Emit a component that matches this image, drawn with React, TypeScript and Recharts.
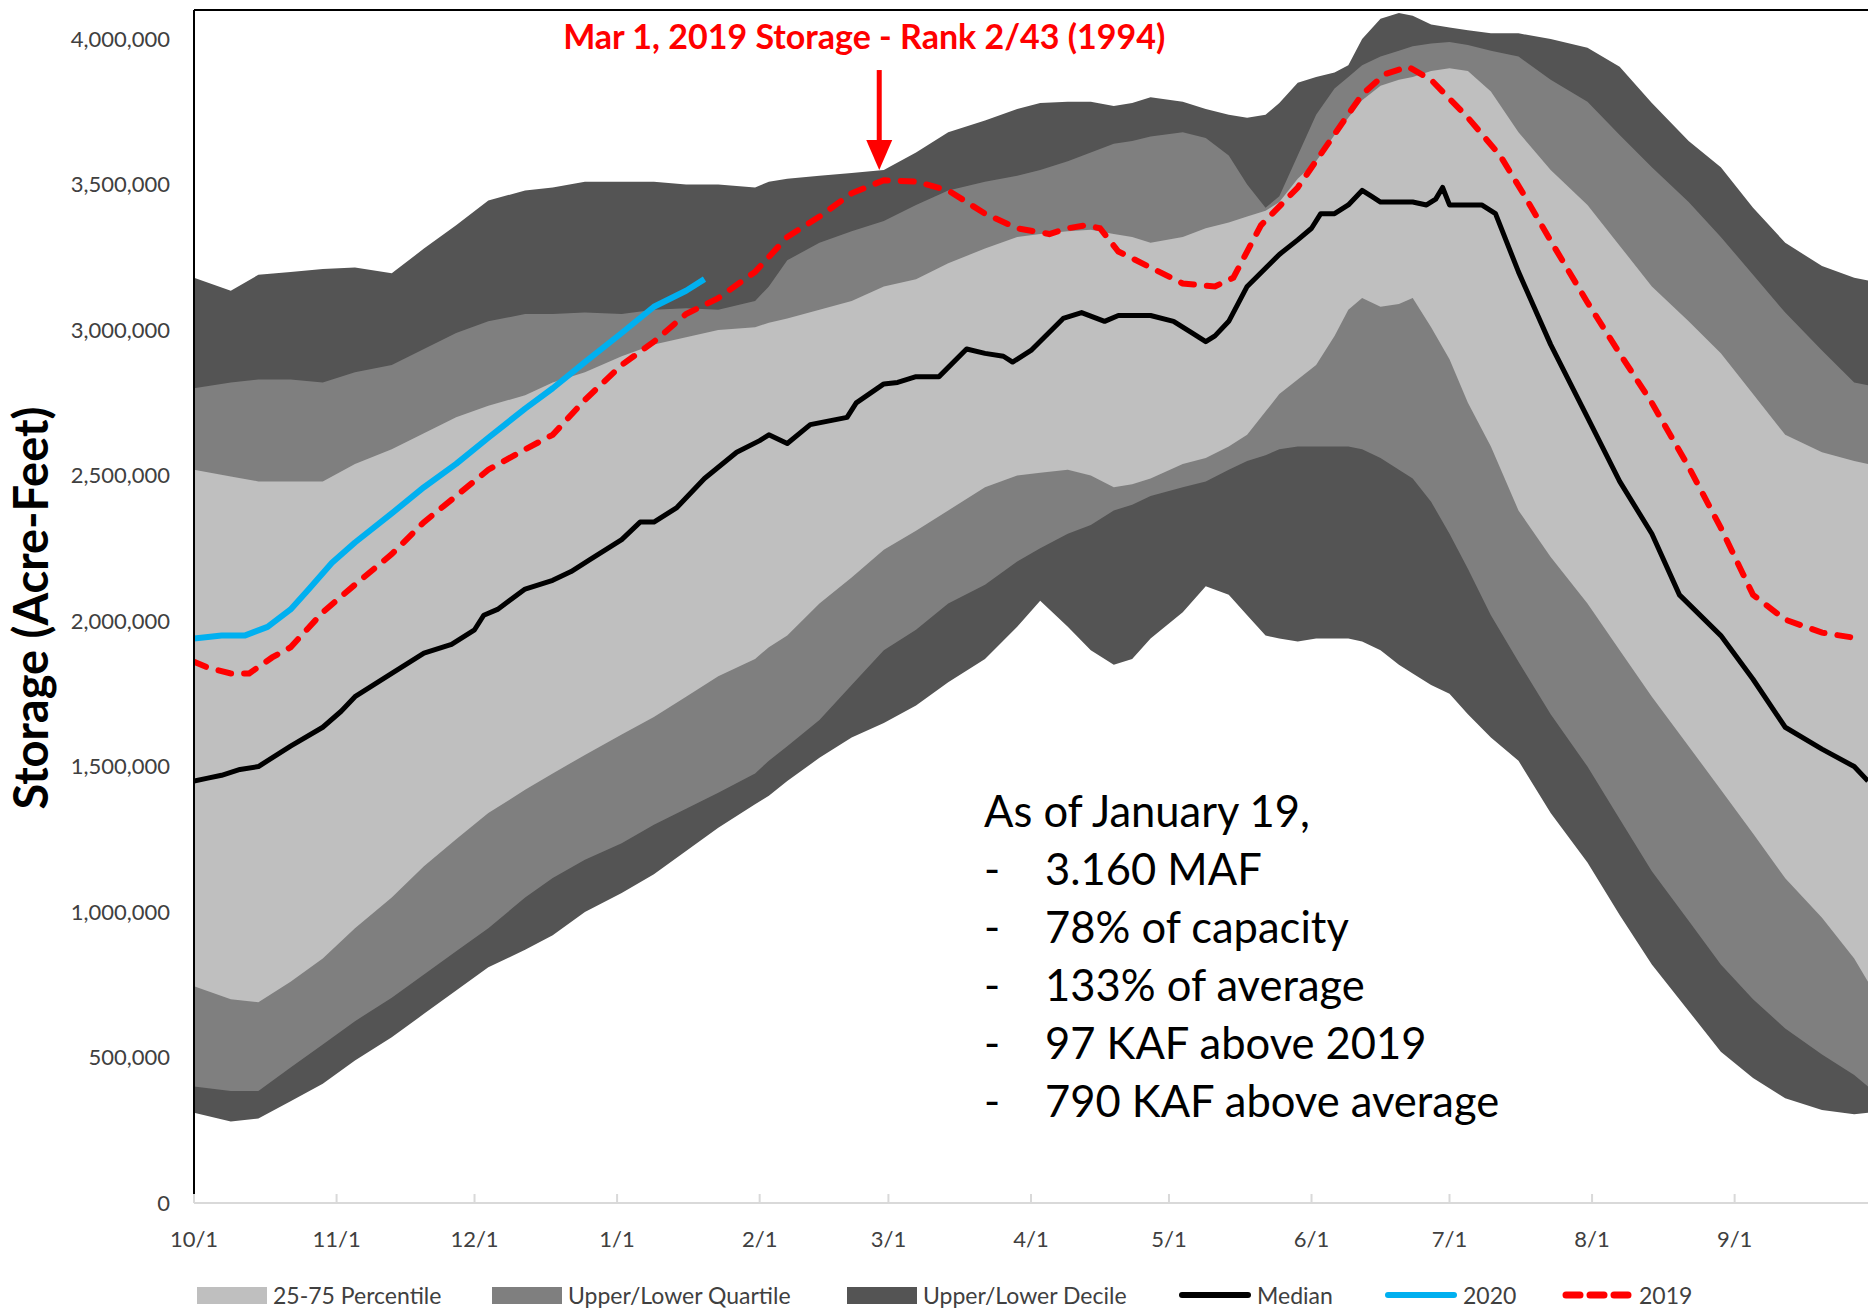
import React from 'react';
import { ComposedChart, Area, Line, XAxis, YAxis, ReferenceLine, ReferenceDot } from 'recharts';

// ---- Data (storage in thousand acre-feet, day = days since Oct 1) ----
const BAND_DAYS = [0, 8, 14, 21, 28, 35, 43, 50, 57, 64, 72, 78, 85, 93, 100, 107, 114, 122, 125, 129, 136, 143, 150, 157, 164, 172, 179, 184, 190, 195, 200, 204, 208, 215, 220, 225, 229, 233, 236, 240, 244, 248, 251, 254, 258, 262, 265, 269, 273, 277, 282, 288, 295, 303, 310, 317, 325, 332, 339, 346, 354, 361, 364];
const DECILE_LOW = [310, 280, 290, 350, 410, 490, 570, 650, 730, 810, 870, 920, 1000, 1065, 1130, 1210, 1290, 1370, 1400, 1450, 1530, 1600, 1650, 1710, 1790, 1870, 1980, 2070, 1980, 1900, 1850, 1870, 1940, 2030, 2120, 2090, 2020, 1950, 1940, 1930, 1940, 1940, 1940, 1930, 1900, 1850, 1820, 1780, 1750, 1680, 1600, 1520, 1340, 1170, 990, 820, 660, 520, 430, 360, 320, 305, 310];
const DECILE_HIGH = [3180, 3135, 3190, 3200, 3210, 3215, 3195, 3280, 3360, 3445, 3480, 3490, 3510, 3510, 3510, 3500, 3500, 3490, 3510, 3520, 3530, 3540, 3550, 3610, 3680, 3720, 3760, 3780, 3785, 3785, 3770, 3780, 3800, 3785, 3760, 3740, 3730, 3740, 3780, 3850, 3870, 3885, 3910, 4000, 4070, 4090, 4080, 4050, 4040, 4030, 4020, 4020, 4000, 3970, 3905, 3780, 3650, 3560, 3420, 3300, 3220, 3180, 3170];
const QUART_LOW = [400, 385, 385, 466, 545, 625, 705, 785, 865, 944, 1050, 1117, 1180, 1236, 1300, 1355, 1410, 1476, 1520, 1570, 1660, 1780, 1900, 1970, 2060, 2125, 2205, 2250, 2300, 2330, 2380, 2400, 2430, 2460, 2480, 2520, 2550, 2570, 2590, 2600, 2600, 2600, 2600, 2590, 2560, 2520, 2490, 2410, 2300, 2180, 2020, 1860, 1680, 1500, 1320, 1140, 970, 820, 700, 600, 510, 440, 400];
const QUART_HIGH = [2800, 2820, 2830, 2830, 2820, 2855, 2880, 2935, 2990, 3030, 3055, 3055, 3060, 3055, 3070, 3075, 3070, 3100, 3150, 3240, 3300, 3340, 3375, 3430, 3480, 3510, 3530, 3550, 3580, 3610, 3640, 3650, 3665, 3680, 3660, 3600, 3500, 3420, 3460, 3600, 3740, 3830, 3870, 3910, 3940, 3960, 3975, 3985, 3990, 3980, 3960, 3940, 3860, 3785, 3670, 3560, 3440, 3320, 3190, 3060, 2930, 2820, 2810];
const IQR_LOW = [745, 700, 690, 760, 840, 944, 1050, 1157, 1250, 1340, 1420, 1476, 1540, 1610, 1670, 1740, 1810, 1870, 1910, 1950, 2060, 2150, 2245, 2310, 2380, 2460, 2500, 2510, 2520, 2500, 2460, 2470, 2490, 2540, 2560, 2600, 2640, 2720, 2780, 2830, 2880, 2980, 3070, 3110, 3080, 3090, 3110, 3010, 2900, 2750, 2600, 2380, 2220, 2060, 1900, 1740, 1570, 1420, 1270, 1116, 980, 840, 760];
const IQR_HIGH = [2520, 2497, 2480, 2480, 2480, 2540, 2590, 2645, 2700, 2740, 2776, 2820, 2855, 2910, 2950, 2975, 3000, 3010, 3025, 3040, 3070, 3100, 3150, 3175, 3230, 3280, 3320, 3330, 3340, 3345, 3330, 3320, 3300, 3320, 3350, 3370, 3390, 3410, 3440, 3520, 3580, 3670, 3730, 3790, 3840, 3860, 3870, 3890, 3900, 3890, 3820, 3680, 3550, 3430, 3290, 3150, 3030, 2920, 2780, 2640, 2580, 2550, 2540];

const MEDIAN_DAYS = [0, 3, 6, 10, 14, 21, 28, 32, 35, 43, 50, 56, 61, 63, 66, 72, 78, 82, 86, 93, 97, 100, 105, 111, 118, 123, 125, 129, 134, 142, 144, 150, 153, 157, 162, 168, 172, 176, 178, 182, 189, 193, 198, 201, 208, 213, 217, 220, 222, 225, 229, 236, 240, 243, 245, 248, 251, 254, 256, 258, 262, 265, 268, 270, 271.5, 273, 280, 283, 288, 295, 303, 310, 317, 323, 332, 339, 346, 354, 361, 364];
const MEDIAN_VALUES = [1450, 1460, 1470, 1490, 1500, 1570, 1635, 1690, 1740, 1820, 1890, 1920, 1970, 2020, 2040, 2110, 2140, 2170, 2210, 2280, 2340, 2340, 2390, 2490, 2580, 2620, 2640, 2610, 2675, 2700, 2750, 2815, 2820, 2840, 2840, 2935, 2920, 2910, 2890, 2930, 3040, 3060, 3030, 3050, 3050, 3030, 2990, 2960, 2980, 3030, 3150, 3260, 3310, 3350, 3400, 3400, 3430, 3480, 3460, 3440, 3440, 3440, 3430, 3450, 3490, 3430, 3430, 3400, 3200, 2950, 2700, 2480, 2300, 2090, 1950, 1800, 1635, 1560, 1500, 1450];

const Y2019_DAYS = [0, 3, 8, 12, 17, 21, 28, 35, 43, 50, 57, 64, 72, 78, 85, 93, 100, 107, 114, 122, 129, 136, 143, 150, 157, 164, 172, 179, 186, 190, 194, 197, 201, 208, 215, 222, 226, 232, 240, 247, 254, 259, 264, 269, 277, 284, 289, 296, 303, 310, 317, 325, 332, 339, 346, 354, 362];
const Y2019_VALUES = [1860, 1840, 1820, 1820, 1875, 1910, 2030, 2125, 2230, 2340, 2430, 2520, 2590, 2640, 2760, 2880, 2960, 3055, 3110, 3200, 3320, 3390, 3470, 3515, 3510, 3480, 3400, 3350, 3330, 3350, 3360, 3350, 3270, 3215, 3160, 3150, 3180, 3360, 3490, 3650, 3810, 3880, 3905, 3860, 3730, 3600, 3470, 3280, 3095, 2920, 2750, 2530, 2320, 2090, 2005, 1960, 1940];

const Y2020_DAYS = [0, 6, 11, 16, 21, 25, 30, 35, 43, 50, 57, 64, 72, 78, 85, 93, 100, 107, 111];
const Y2020_VALUES = [1940, 1950, 1950, 1980, 2040, 2110, 2200, 2270, 2370, 2460, 2540, 2630, 2730, 2800, 2890, 2990, 3080, 3135, 3175];

const MONTH_TICKS = [0, 31, 61, 92, 123, 151, 182, 212, 243, 273, 304, 335];
const MONTH_LABELS = ['10/1', '11/1', '12/1', '1/1', '2/1', '3/1', '4/1', '5/1', '6/1', '7/1', '8/1', '9/1'];
const Y_TICKS = [0, 500000, 1000000, 1500000, 2000000, 2500000, 3000000, 3500000, 4000000];
const Y_MAX = 4100000;

const ANNOTATION_TEXT = 'Mar 1, 2019 Storage - Rank 2/43 (1994)';
const ARROW_DAY = 149;
const ARROW_TIP = 3550000;

const INFO_TITLE = 'As of January 19,';
const INFO_ITEMS = ['3.160 MAF', '78% of capacity', '133% of average', '97 KAF above 2019', '790 KAF above average'];

const LEGEND_ITEMS = [
  { label: '25-75 Percentile', kind: 'box', color: '#BFBFBF' },
  { label: 'Upper/Lower Quartile', kind: 'box', color: '#7F7F7F' },
  { label: 'Upper/Lower Decile', kind: 'box', color: '#545454' },
  { label: 'Median', kind: 'line', color: '#000000' },
  { label: '2020', kind: 'line', color: '#00B0F0' },
  { label: '2019', kind: 'dash', color: '#FF0000' },
];

// ---- Built tables ----
const K = 1000;
const bandData = BAND_DAYS.map((d, i) => ({
  day: d,
  decile: [DECILE_LOW[i] * K, DECILE_HIGH[i] * K],
  quartile: [QUART_LOW[i] * K, QUART_HIGH[i] * K],
  iqr: [IQR_LOW[i] * K, IQR_HIGH[i] * K],
}));
const medianData = MEDIAN_DAYS.map((d, i) => ({ day: d, v: MEDIAN_VALUES[i] * K }));
const data2019 = Y2019_DAYS.map((d, i) => ({ day: d, v: Y2019_VALUES[i] * K }));
const data2020 = Y2020_DAYS.map((d, i) => ({ day: d, v: Y2020_VALUES[i] * K }));

const FONT = 'Lato, "Open Sans", sans-serif';

const XTick = (props: any) => {
  const { x, y, payload } = props;
  const idx = MONTH_TICKS.indexOf(payload.value);
  return (
    <g>
      <line x1={x} x2={x} y1={y - 9} y2={y} stroke="#D9D9D9" strokeWidth={2} />
      <text x={x} y={y + 44} textAnchor="middle" fontSize={22} fontFamily={FONT} fill="#404040">
        {idx >= 0 ? MONTH_LABELS[idx] : ''}
      </text>
    </g>
  );
};

const ArrowShape = (props: any) => {
  const { cx, cy } = props;
  return (
    <g>
      <text x={cx - 15} y={cy - 121} textAnchor="middle" fontSize={34} fontWeight="bold" fontFamily={FONT} fill="#FF0000">
        {ANNOTATION_TEXT}
      </text>
      <line x1={cx} x2={cx} y1={cy - 100} y2={cy - 28} stroke="#FF0000" strokeWidth={5} />
      <polygon points={`${cx - 13},${cy - 30} ${cx + 13},${cy - 30} ${cx},${cy}`} fill="#FF0000" />
    </g>
  );
};

const LegendSwatch = ({ kind, color }: { kind: string; color: string }) => {
  if (kind === 'box') return <div style={{ width: 70, height: 17, background: color }} />;
  if (kind === 'line') return <div style={{ width: 72, height: 6, borderRadius: 3, background: color }} />;
  return (
    <svg width={72} height={10}>
      <line x1={5} x2={70} y1={5} y2={5} stroke={color} strokeWidth={7} strokeDasharray="14 10" strokeLinecap="round" />
    </svg>
  );
};

const LEGEND_X = [197, 492, 847, 1179, 1385, 1561];

export default function App() {
  return (
    <div style={{ position: 'absolute', left: 0, top: 0, width: 1868, height: 1311, background: '#fff', overflow: 'hidden' }}>
      <ComposedChart width={1868} height={1311} data={bandData} margin={{ top: 10, right: 0, left: 0, bottom: 68 }}>
        <XAxis
          dataKey="day"
          type="number"
          domain={[0, 364]}
          ticks={MONTH_TICKS}
          interval={0}
          height={40}
          axisLine={{ stroke: '#D9D9D9', strokeWidth: 2 }}
          tickLine={false}
          tickSize={0}
          tickMargin={0}
          tick={<XTick />}
          allowDataOverflow
        />
        <YAxis
          type="number"
          domain={[0, Y_MAX]}
          ticks={Y_TICKS}
          interval={0}
          width={194}
          axisLine={{ stroke: '#000', strokeWidth: 2 }}
          tickLine={false}
          tickSize={0}
          tickMargin={24}
          tick={{ fontSize: 22, fontFamily: FONT, fill: '#404040' }}
          tickFormatter={(v: number) => v.toLocaleString('en-US')}
          allowDataOverflow
        />
        <Area type="linear" dataKey="decile" fill="#545454" fillOpacity={1} stroke="none" strokeWidth={0} isAnimationActive={false} />
        <Area type="linear" dataKey="quartile" fill="#7F7F7F" fillOpacity={1} stroke="none" strokeWidth={0} isAnimationActive={false} />
        <Area type="linear" dataKey="iqr" fill="#BFBFBF" fillOpacity={1} stroke="none" strokeWidth={0} isAnimationActive={false} />
        <Line data={medianData} type="linear" dataKey="v" stroke="#000" strokeWidth={5} strokeLinejoin="round" dot={false} isAnimationActive={false} />
        <Line data={data2020} type="linear" dataKey="v" stroke="#00B0F0" strokeWidth={6} strokeLinejoin="round" dot={false} isAnimationActive={false} />
        <Line data={data2019} type="linear" dataKey="v" stroke="#FF0000" strokeWidth={6} strokeDasharray="13 13" strokeLinecap="round" dot={false} isAnimationActive={false} />
        <ReferenceLine y={Y_MAX} stroke="#000" strokeWidth={2} ifOverflow="visible" />
        <ReferenceDot x={ARROW_DAY} y={ARROW_TIP} r={0} ifOverflow="visible" shape={<ArrowShape />} />
      </ComposedChart>

      <div
        style={{
          position: 'absolute', left: 30, top: 608, transform: 'translate(-50%, -50%) rotate(-90deg)',
          whiteSpace: 'nowrap', fontFamily: FONT, fontWeight: 'bold', fontSize: 47, color: '#000',
        }}
      >
        Storage (Acre-Feet)
      </div>

      <div style={{ position: 'absolute', left: 984, top: 781, fontFamily: FONT, fontSize: 43.5, lineHeight: '58px', color: '#000' }}>
        <div>{INFO_TITLE}</div>
        {INFO_ITEMS.map((t) => (
          <div key={t} style={{ position: 'relative', whiteSpace: 'nowrap' }}>
            <span>-</span>
            <span style={{ position: 'absolute', left: 61 }}>{t}</span>
          </div>
        ))}
      </div>

      {LEGEND_ITEMS.map((it, i) => (
        <div
          key={it.label}
          style={{ position: 'absolute', left: LEGEND_X[i], top: 1295, transform: 'translateY(-50%)', display: 'flex', alignItems: 'center', gap: 6, whiteSpace: 'nowrap' }}
        >
          <LegendSwatch kind={it.kind} color={it.color} />
          <span style={{ fontFamily: FONT, fontSize: 23, color: '#404040' }}>{it.label}</span>
        </div>
      ))}
    </div>
  );
}
